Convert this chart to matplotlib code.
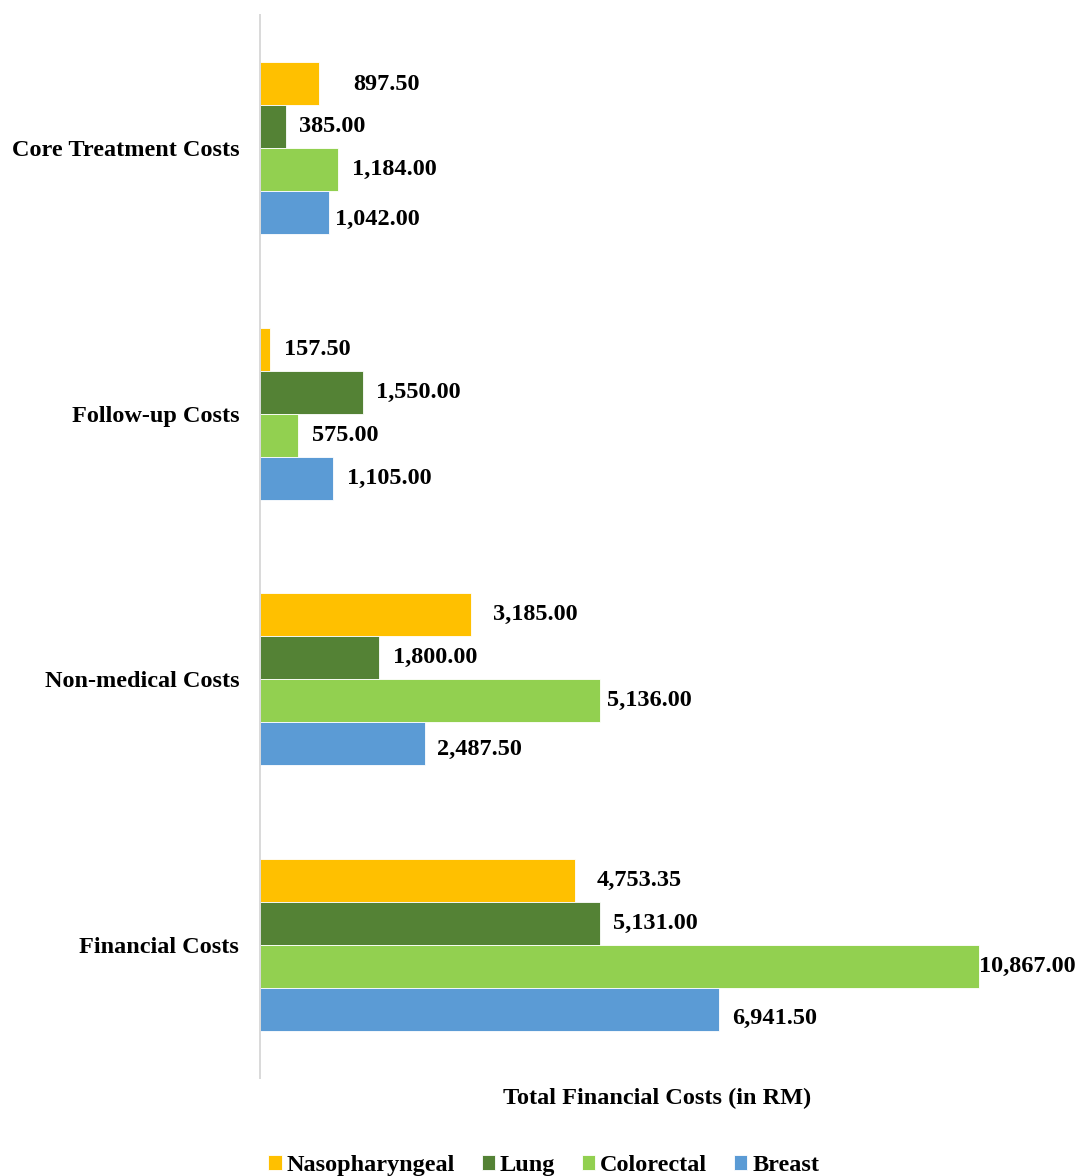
import numpy as np
import matplotlib
matplotlib.use("Agg")
import matplotlib.pyplot as plt

# ------------------------------------------
# Cost components (RM) by cancer type
# ------------------------------------------
categories = ["Financial Costs", "Non-medical Costs", "Follow-up Costs", "Core Treatment Costs"]
series = ["Nasopharyngeal", "Lung", "Colorectal", "Breast"]

nasopharyngeal = [4753.35, 3185.00, 157.50, 897.50]
lung = [5131.00, 1800.00, 1550.00, 385.00]
colorectal = [10867.00, 5136.00, 575.00, 1184.00]
breast = [6941.50, 2487.50, 1105.00, 1042.00]

colors = ["#FFC000", "#548235", "#92D050", "#5B9BD5"]

# label nudges in points (dx, dy) for a few crowded labels
nudges = {
    (3, 0): (14, -1), (1, 0): (6, 0), (0, 0): (6, 0),
    (1, 2): (-5, 0), (0, 2): (-10, 0),
    (3, 3): (-6, -5), (1, 3): (-1, -4), (0, 3): (-1, -6),
}

plt.rcParams["font.family"] = ["Liberation Serif", "DejaVu Serif"]
plt.rcParams["font.weight"] = "bold"

fig = plt.figure(figsize=(10.79, 11.76), dpi=100)
ax = fig.add_axes([0.241, 0.0833, 0.7359, 0.9039])

y = np.arange(len(categories))
h = 0.1618
offsets = [1.5 * h, 0.5 * h, -0.5 * h, -1.5 * h]
values = [nasopharyngeal, lung, colorectal, breast]

for s, (name, vals, col, off) in enumerate(zip(series, values, colors, offsets)):
    bars = ax.barh(y + off, vals, height=h, color=col, edgecolor="white",
                   linewidth=0.6, label=name)
    for c, (b, v) in enumerate(zip(bars, vals)):
        dx, dy = nudges.get((c, s), (0, 0))
        ax.annotate(f"{v:,.2f}", xy=(b.get_width(), b.get_y() + h / 2),
                    xytext=(10 + dx, dy), textcoords="offset points",
                    ha="left", va="center", fontsize=17.5, fontweight="bold")

ax.set_xlim(0, 12000)
ax.set_ylim(-0.5, 3.5)
ax.set_yticks(y)
ax.set_yticklabels(categories, fontsize=17.5, fontweight="bold")
ax.tick_params(axis="y", length=0, pad=15)
ax.tick_params(axis="x", length=0, labelbottom=False)

for side in ["top", "right", "bottom"]:
    ax.spines[side].set_visible(False)
ax.spines["left"].set_color("#d9d9d9")
ax.spines["left"].set_linewidth(1.4)

ax.set_xlabel("Total Financial Costs (in RM)", fontsize=17.5, fontweight="bold", labelpad=7)

fig.legend(loc="center", bbox_to_anchor=(0.504, 0.009), ncol=4, frameon=False,
           prop={"size": 17.5, "weight": "bold"}, handlelength=0.55, handleheight=0.55,
           handletextpad=0.2, columnspacing=1.1)

fig.savefig("out.png", dpi=100)
